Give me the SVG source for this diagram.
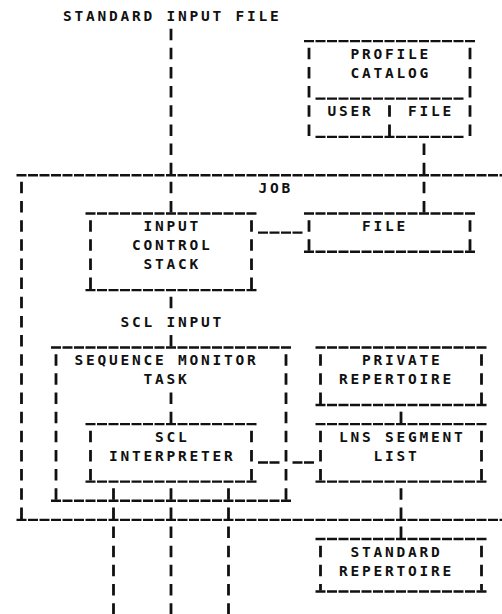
<svg xmlns="http://www.w3.org/2000/svg" width="502" height="614" viewBox="0 0 502 614">
  <!-- Line-printer style chart: 11.5px columns, 19.15px rows.
       Underscore runs are drawn as short dashes, bar runs as tall dashes. -->
  <style>
    .h { fill: none; stroke: #111; stroke-width: 2.4; stroke-dasharray: 10 1.5; }
    .v { fill: none; stroke: #111; stroke-width: 2.8; stroke-dasharray: 11.5 7.65; }
    text { font-family: "DejaVu Sans Mono", "Liberation Mono", monospace; font-weight: bold; font-size: 14.5px; letter-spacing: 2.77px; fill: #111; }
  </style>
  <rect width="502" height="614" fill="#fff"/>

  <g id="standard-input-file">
    <text x="63.1" y="20.5">STANDARD INPUT FILE</text>
  </g>

  <g id="profile-catalog">
    <path class="h" d="M304 41.15H475"/>
    <path class="v" d="M309 47.8V135.9M470 47.8V135.9"/>
    <path class="h" d="M315.5 98.6H463.5"/>
    <path class="v" d="M389.5 105.25V135.9"/>
    <path class="h" d="M315.5 136.9H463.5"/>
    <text x="350.6" y="58.8">PROFILE</text>
    <text x="350.6" y="77.95">CATALOG</text>
    <text x="327.6" y="116.25">USER</text>
    <text x="408.1" y="116.25">FILE</text>
  </g>

  <g id="job">
    <path class="h" d="M16.5 175.2H502"/>
    <path class="v" d="M21.5 181.85V518.9"/>
    <path class="h" d="M16.5 519.9H502"/>
    <text x="258.6" y="192.85">JOB</text>
  </g>

  <g id="input-control-stack">
    <path class="h" d="M85.5 213.5H256.5"/>
    <path class="v" d="M90.5 220.15V289.1M251.5 220.15V289.1"/>
    <path class="h" d="M85.5 290.1H256.5"/>
    <text x="143.6" y="231.15">INPUT</text>
    <text x="132.1" y="250.3">CONTROL</text>
    <text x="143.6" y="269.45">STACK</text>
  </g>

  <g id="job-file">
    <path class="h" d="M304 213.5H475"/>
    <path class="v" d="M309 220.15V250.8M470 220.15V250.8"/>
    <path class="h" d="M304 251.8H475"/>
    <text x="362.1" y="231.15">FILE</text>
  </g>

  <g id="scl-input">
    <text x="120.6" y="326.9">SCL INPUT</text>
  </g>

  <g id="sequence-monitor-task">
    <path class="h" d="M51 347.55H291"/>
    <path class="v" d="M56 354.2V499.75M286 354.2V499.75"/>
    <path class="h" d="M51 500.75H291"/>
    <text x="74.6" y="365.2">SEQUENCE MONITOR</text>
    <text x="143.6" y="384.35">TASK</text>
  </g>

  <g id="scl-interpreter">
    <path class="h" d="M85.5 424.15H256.5"/>
    <path class="v" d="M90.5 430.8V480.6M251.5 430.8V480.6"/>
    <path class="h" d="M85.5 481.6H256.5"/>
    <text x="155.1" y="441.8">SCL</text>
    <text x="109.1" y="460.95">INTERPRETER</text>
  </g>

  <g id="private-repertoire">
    <path class="h" d="M315.5 347.55H486.5"/>
    <path class="v" d="M320.5 354.2V404M481.5 354.2V404"/>
    <path class="h" d="M315.5 405H486.5"/>
    <text x="362.1" y="365.2">PRIVATE</text>
    <text x="339.1" y="384.35">REPERTOIRE</text>
  </g>

  <g id="lns-segment-list">
    <path class="h" d="M315.5 424.15H486.5"/>
    <path class="v" d="M320.5 430.8V480.6M481.5 430.8V480.6"/>
    <path class="h" d="M315.5 481.6H486.5"/>
    <text x="339.1" y="441.8">LNS SEGMENT</text>
    <text x="373.6" y="460.95">LIST</text>
  </g>

  <g id="standard-repertoire">
    <path class="h" d="M315.5 539.05H486.5"/>
    <path class="v" d="M320.5 545.7V590.5M481.5 545.7V590.5"/>
    <path class="h" d="M315.5 591.5H486.5"/>
    <text x="350.6" y="556.7">STANDARD</text>
    <text x="339.1" y="575.85">REPERTOIRE</text>
  </g>

  <g id="connectors">
    <!-- standard input down through JOB into the input control stack -->
    <path class="v" d="M171 28.65V212.5"/>
    <!-- profile catalog FILE down to the job FILE -->
    <path class="v" d="M424 143.55V212.5"/>
    <!-- input control stack to job FILE -->
    <path class="h" d="M258 232.65H302.5"/>
    <!-- input control stack to SCL INPUT to sequence monitor -->
    <path class="v" d="M171 296.75V308.25"/>
    <path class="v" d="M171 335.05V346.55"/>
    <!-- sequence monitor task to SCL interpreter -->
    <path class="v" d="M171 392.5V423.15"/>
    <!-- SCL interpreter to LNS segment list -->
    <path class="h" d="M258 462.45H279.5M292.5 462.45H314"/>
    <!-- private repertoire to LNS segment list -->
    <path class="v" d="M401 411.65V423.15"/>
    <!-- LNS segment list to standard repertoire -->
    <path class="v" d="M401 488.25V538.05"/>
    <!-- outputs leaving the bottom -->
    <path class="v" d="M113.5 488.25V614.65M171 488.25V614.65M228.5 488.25V614.65"/>
  </g>
</svg>
